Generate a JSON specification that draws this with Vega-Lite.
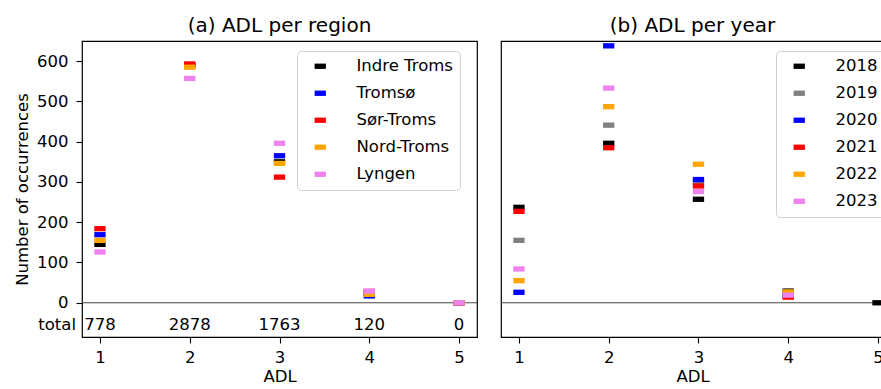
{
  "$schema": "https://vega.github.io/schema/vega-lite/v6.json",
  "padding": {"left": 13, "top": 15, "right": 0, "bottom": 0},
  "config": {
    "font": "DejaVu Sans",
    "view": {"stroke": "black", "strokeWidth": 1.2},
    "axis": {"grid": false, "domain": false, "tickColor": "black", "tickSize": 6, "tickWidth": 1.1, "labelPadding": 8, "titlePadding": 6, "labelFontSize": 16.5, "titleFontSize": 16.5, "titleFontWeight": "normal", "labelColor": "black", "titleColor": "black"},
    "axisX": {"labelPadding": 6, "titlePadding": 3},
    "title": {"fontSize": 20, "fontWeight": "normal", "color": "black", "offset": 5, "anchor": "middle"},
    "legend": {"title": null, "orient": "none", "symbolType": "M-1,-0.47H1V0.47H-1Z", "symbolSize": 128, "symbolStrokeWidth": 0, "symbolOpacity": 1, "labelFontSize": 16.5, "labelColor": "black", "padding": 7, "symbolOffset": 8, "labelOffset": 28, "rowPadding": 10, "fillColor": "rgba(255,255,255,0.8)", "strokeColor": "#d0d0d0", "cornerRadius": 4}
  },
  "datasets": {
    "region": [
      {"Region": "Indre Troms", "ADL": 1, "count": 145},
      {"Region": "Indre Troms", "ADL": 2, "count": 589},
      {"Region": "Indre Troms", "ADL": 3, "count": 350},
      {"Region": "Indre Troms", "ADL": 4, "count": 25},
      {"Region": "Indre Troms", "ADL": 5, "count": 0},
      {"Region": "Tromsø", "ADL": 1, "count": 169},
      {"Region": "Tromsø", "ADL": 2, "count": 590},
      {"Region": "Tromsø", "ADL": 3, "count": 365},
      {"Region": "Tromsø", "ADL": 4, "count": 17},
      {"Region": "Tromsø", "ADL": 5, "count": 0},
      {"Region": "Sør-Troms", "ADL": 1, "count": 184},
      {"Region": "Sør-Troms", "ADL": 2, "count": 593},
      {"Region": "Sør-Troms", "ADL": 3, "count": 312},
      {"Region": "Sør-Troms", "ADL": 4, "count": 28},
      {"Region": "Sør-Troms", "ADL": 5, "count": 0},
      {"Region": "Nord-Troms", "ADL": 1, "count": 155},
      {"Region": "Nord-Troms", "ADL": 2, "count": 585},
      {"Region": "Nord-Troms", "ADL": 3, "count": 346},
      {"Region": "Nord-Troms", "ADL": 4, "count": 21},
      {"Region": "Nord-Troms", "ADL": 5, "count": 0},
      {"Region": "Lyngen", "ADL": 1, "count": 126},
      {"Region": "Lyngen", "ADL": 2, "count": 557},
      {"Region": "Lyngen", "ADL": 3, "count": 396},
      {"Region": "Lyngen", "ADL": 4, "count": 29},
      {"Region": "Lyngen", "ADL": 5, "count": 0}
    ],
    "year": [
      {"Year": "2018", "ADL": 1, "count": 237},
      {"Year": "2018", "ADL": 2, "count": 396},
      {"Year": "2018", "ADL": 3, "count": 257},
      {"Year": "2018", "ADL": 4, "count": 29},
      {"Year": "2018", "ADL": 5, "count": 0},
      {"Year": "2019", "ADL": 1, "count": 155},
      {"Year": "2019", "ADL": 2, "count": 441},
      {"Year": "2019", "ADL": 3, "count": 298},
      {"Year": "2019", "ADL": 4, "count": 18},
      {"Year": "2020", "ADL": 1, "count": 26},
      {"Year": "2020", "ADL": 2, "count": 638},
      {"Year": "2020", "ADL": 3, "count": 306},
      {"Year": "2020", "ADL": 4, "count": 17},
      {"Year": "2021", "ADL": 1, "count": 227},
      {"Year": "2021", "ADL": 2, "count": 385},
      {"Year": "2021", "ADL": 3, "count": 290},
      {"Year": "2021", "ADL": 4, "count": 14},
      {"Year": "2022", "ADL": 1, "count": 55},
      {"Year": "2022", "ADL": 2, "count": 487},
      {"Year": "2022", "ADL": 3, "count": 344},
      {"Year": "2022", "ADL": 4, "count": 27},
      {"Year": "2023", "ADL": 1, "count": 84},
      {"Year": "2023", "ADL": 2, "count": 533},
      {"Year": "2023", "ADL": 3, "count": 276},
      {"Year": "2023", "ADL": 4, "count": 19}
    ],
    "totals": [
      {"ADL": 1, "total": "778"},
      {"ADL": 2, "total": "2878"},
      {"ADL": 3, "total": "1763"},
      {"ADL": 4, "total": "120"},
      {"ADL": 5, "total": "0"}
    ]
  },
  "spacing": 20,
  "resolve": {"scale": {"color": "independent", "y": "independent", "x": "independent"}},
  "hconcat": [
    {
      "width": 395,
      "height": 296,
      "title": "(a) ADL per region",
      "layer": [
        {
          "data": {"values": [{}]},
          "mark": {"type": "rule", "color": "#444444", "strokeWidth": 1},
          "encoding": {"y": {"datum": 0, "type": "quantitative", "scale": {"domain": [-85, 650], "nice": false, "zero": false}}}
        },
        {
          "data": {"name": "region"},
          "mark": {"type": "point", "shape": "M-1,-0.47H1V0.47H-1Z", "filled": true, "size": 128, "opacity": 1, "strokeWidth": 0},
          "encoding": {
            "x": {"field": "ADL", "type": "quantitative", "scale": {"domain": [0.8, 5.2], "nice": false, "zero": false}, "axis": {"title": "ADL", "values": [1, 2, 3, 4, 5], "format": "d"}},
            "y": {"field": "count", "type": "quantitative", "scale": {"domain": [-85, 650], "nice": false, "zero": false}, "axis": {"title": "Number of occurrences", "values": [0, 100, 200, 300, 400, 500, 600]}},
            "color": {"field": "Region", "type": "nominal", "sort": null, "scale": {"domain": ["Indre Troms", "Tromsø", "Sør-Troms", "Nord-Troms", "Lyngen"], "range": ["#000000", "#0000ff", "#ff0000", "#ffa500", "#ee82ee"]}, "legend": {"legendX": 215, "legendY": 10}}
          }
        },
        {
          "data": {"name": "totals"},
          "mark": {"type": "text", "fontSize": 16.5, "baseline": "middle", "color": "black"},
          "encoding": {
            "x": {"field": "ADL", "type": "quantitative"},
            "y": {"datum": -54, "type": "quantitative"},
            "text": {"field": "total"}
          }
        },
        {
          "data": {"values": [{"label": "total"}]},
          "mark": {"type": "text", "fontSize": 16.5, "align": "right", "baseline": "middle", "dx": -6, "color": "black"},
          "encoding": {
            "x": {"datum": 0.8, "type": "quantitative"},
            "y": {"datum": -54, "type": "quantitative"},
            "text": {"field": "label"}
          }
        }
      ]
    },
    {
      "width": 383,
      "height": 296,
      "title": "(b) ADL per year",
      "layer": [
        {
          "data": {"values": [{}]},
          "mark": {"type": "rule", "color": "#444444", "strokeWidth": 1},
          "encoding": {"y": {"datum": 0, "type": "quantitative", "scale": {"domain": [-85, 650], "nice": false, "zero": false}, "axis": null}}
        },
        {
          "data": {"name": "year"},
          "mark": {"type": "point", "shape": "M-1,-0.47H1V0.47H-1Z", "filled": true, "size": 128, "opacity": 1, "strokeWidth": 0, "clip": true},
          "encoding": {
            "x": {"field": "ADL", "type": "quantitative", "scale": {"domain": [0.8, 5.067], "nice": false, "zero": false}, "axis": {"title": "ADL", "values": [1, 2, 3, 4, 5], "format": "d"}},
            "y": {"field": "count", "type": "quantitative", "scale": {"domain": [-85, 650], "nice": false, "zero": false}, "axis": null},
            "color": {"field": "Year", "type": "nominal", "sort": null, "scale": {"domain": ["2018", "2019", "2020", "2021", "2022", "2023"], "range": ["#000000", "#808080", "#0000ff", "#ff0000", "#ffa500", "#ee82ee"]}, "legend": {"legendX": 275, "legendY": 10}}
          }
        }
      ]
    }
  ]
}
